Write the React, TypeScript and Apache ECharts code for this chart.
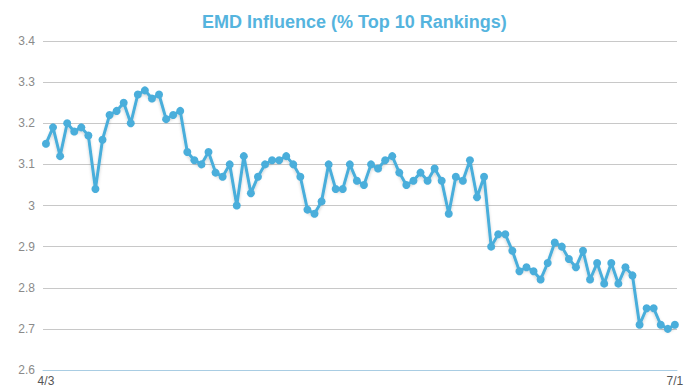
import React, { useEffect, useRef } from "react";
import * as echarts from "echarts";

const TITLE = "EMD Influence (% Top 10 Rankings)";

// Dates 4/3 .. 7/1
const months: [number, number, number][] = [
  [4, 3, 30],
  [5, 1, 31],
  [6, 1, 30],
  [7, 1, 1],
];
const categories: string[] = [];
months.forEach(([m, s, e]) => {
  for (let d = s; d <= e; d++) categories.push(`${m}/${d}`);
});

const valuesApr = [
  3.15, 3.19, 3.12, 3.2, 3.18, 3.19, 3.17, 3.04, 3.16, 3.22, 3.23, 3.25, 3.2,
  3.27, 3.28, 3.26, 3.27, 3.21, 3.22, 3.23, 3.13, 3.11, 3.1,
];
const valuesMay = [
  3.13, 3.08, 3.07, 3.1, 3.0, 3.12, 3.03, 3.07, 3.1, 3.11, 3.11, 3.12, 3.1,
  3.07, 2.99, 2.98, 3.01, 3.1, 3.04, 3.04, 3.1,
];
const valuesJun = [
  3.06, 3.05, 3.1, 3.09, 3.11, 3.12, 3.08, 3.05, 3.06, 3.08, 3.06, 3.09, 3.06,
  2.98, 3.07, 3.06, 3.11, 3.02, 3.07,
];
const valuesLate = [
  2.9, 2.93, 2.93, 2.89, 2.84, 2.85, 2.84, 2.82, 2.86, 2.91, 2.9, 2.87, 2.85,
  2.89, 2.82, 2.86, 2.81, 2.86, 2.81, 2.85, 2.83, 2.71, 2.75, 2.75, 2.71, 2.7,
  2.71,
];
const values = [...valuesApr, ...valuesMay, ...valuesJun, ...valuesLate];

const xLabelIndices = [0, categories.length - 1];

export default function App() {
  const ref = useRef<HTMLDivElement>(null);
  useEffect(() => {
    if (!ref.current) return;
    const chart = echarts.init(ref.current, undefined, { renderer: "svg" });
    chart.setOption({
      animation: false,
      backgroundColor: "#ffffff",
      title: {
        text: TITLE,
        left: 197,
        top: 8,
        textStyle: {
          fontFamily: "Liberation Sans, Arial, sans-serif",
          fontSize: 18,
          fontWeight: "bold",
          color: "#55b4de",
        },
      },
      grid: { left: 43, right: 12, top: 41, bottom: 19, containLabel: false },
      xAxis: {
        type: "value",
        min: -0.42,
        max: categories.length - 1 + 0.3,
        splitLine: { show: false },
        axisTick: { show: false },
        axisLine: { show: true, lineStyle: { color: "#a9cde3", width: 1 } },
        axisLabel: {
          customValues: xLabelIndices,
          formatter: (v: number) => categories[Math.round(v)] ?? "",
          color: "#555555",
          fontSize: 12,
          margin: 5,
          fontFamily: "Liberation Sans, Arial, sans-serif",
        },
      },
      yAxis: {
        type: "value",
        min: 2.6,
        max: 3.4,
        interval: 0.1,
        axisLine: { show: false },
        axisTick: { show: false },
        splitLine: { lineStyle: { color: "#c8c8c8", width: 1 } },
        axisLabel: {
          color: "#8a8a8a",
          fontSize: 12,
          margin: 8,
          fontFamily: "Liberation Sans, Arial, sans-serif",
          formatter: (v: number) => String(Math.round(v * 10) / 10),
        },
      },
      series: [
        {
          type: "line",
          data: values.map((v, i) => [i, v]),
          symbol: "circle",
          symbolSize: 8,
          showAllSymbol: true,
          lineStyle: {
            color: "#4aaedb",
            width: 3,
            shadowColor: "rgba(0,0,0,0.18)",
            shadowBlur: 3,
            shadowOffsetY: 2,
          },
          itemStyle: { color: "#4aaedb" },
        },
      ],
    });
    return () => chart.dispose();
  }, []);
  return (
    <div
      ref={ref}
      style={{ position: "absolute", left: 0, top: 0, width: 689, height: 389 }}
    />
  );
}
